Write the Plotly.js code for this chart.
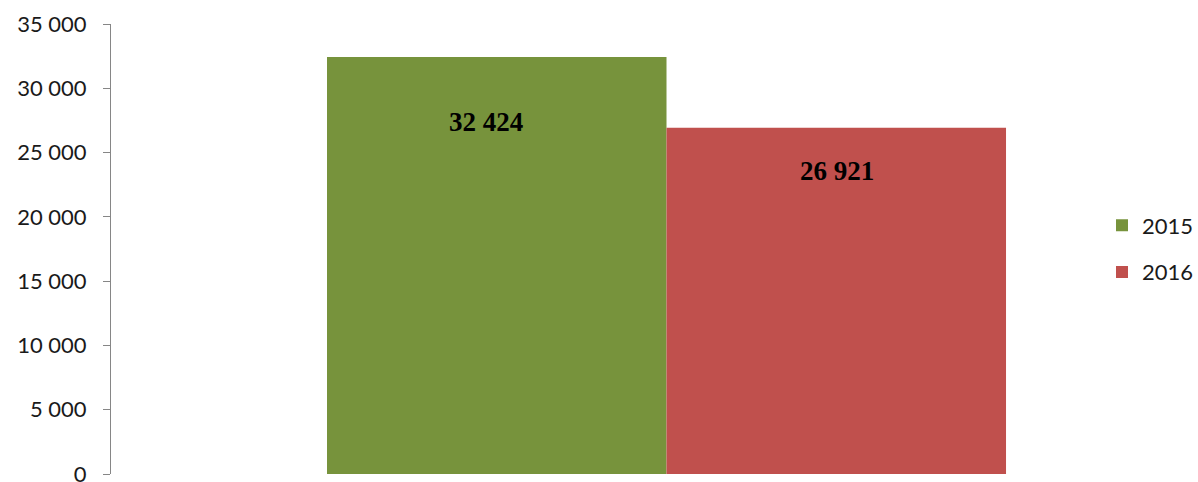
<!DOCTYPE html>
<html>
<head>
<meta charset="utf-8">
<script src="https://cdn.plot.ly/plotly-3.0.1.min.js"></script>
<style>html,body{margin:0;padding:0;background:#fff;}#chart{width:1198px;height:482px;}</style>
</head>
<body>
<div id="chart"></div>
<script>
const categories = ["Итого"];
const seriesNames = ["2015", "2016"];
const values2015 = [32424];
const values2016 = [26921];
const tickVals = [0, 5000, 10000, 15000, 20000, 25000, 30000, 35000];
const colors = ["#77933C", "#C0504D"];

const seriesValues = [values2015, values2016];
const traces = seriesNames.map((name, i) => ({
  type: 'bar',
  name: name,
  x: categories,
  y: seriesValues[i],
  marker: {color: colors[i], line: {width: 0}},
  legendgroup: name,
  hoverinfo: 'none'
}));

const fmt = v => String(v).replace(/\B(?=(\d{3})+(?!\d))/g, ' ');
const labelShift = [{x: -181, y: -65}, {x: 170, y: -43}];
const annotations = seriesNames.map((name, i) => ({
  x: categories[0], y: seriesValues[i][0], xref: 'x', yref: 'y',
  text: '<b>' + fmt(seriesValues[i][0]) + '</b>',
  showarrow: false, xshift: labelShift[i].x, yshift: labelShift[i].y,
  font: {family: 'Liberation Serif, Times New Roman, serif', size: 27, color: '#000'}
}));

const layout = {
  width: 1198, height: 482,
  margin: {l: 111, r: 138, t: 24, b: 8},
  paper_bgcolor: '#fff', plot_bgcolor: '#fff',
  separators: ', ',
  barmode: 'group', bargap: 0.2, bargroupgap: 0,
  showlegend: true,
  legend: {
    xref: 'container', yref: 'container', x: 1102/1198, y: 1 - 249/482,
    xanchor: 'left', yanchor: 'middle',
    traceorder: 'grouped', tracegroupgap: 15,
    font: {family: 'Lato, Open Sans, sans-serif', size: 22, color: '#1a1a1a'},
    bgcolor: 'rgba(0,0,0,0)'
  },
  xaxis: {
    type: 'category', range: [-0.6545, 0.4636],
    showticklabels: false, showline: false, showgrid: false, zeroline: false, ticks: ''
  },
  yaxis: {
    range: [0, 35000], tickvals: tickVals, tickformat: ',',
    showline: true, linecolor: '#868686', linewidth: 1,
    ticks: 'outside', ticklen: 7, tickcolor: '#868686', tickwidth: 1,
    showgrid: false, zeroline: false,
    ticklabelstandoff: 12, ticklabeloverflow: 'allow',
    automargin: false,
    tickfont: {family: 'Lato, Open Sans, sans-serif', size: 22, color: '#1a1a1a'}
  },
  annotations: annotations
};

Plotly.newPlot('chart', traces, layout, {displayModeBar: false, staticPlot: true});
</script>
</body>
</html>
